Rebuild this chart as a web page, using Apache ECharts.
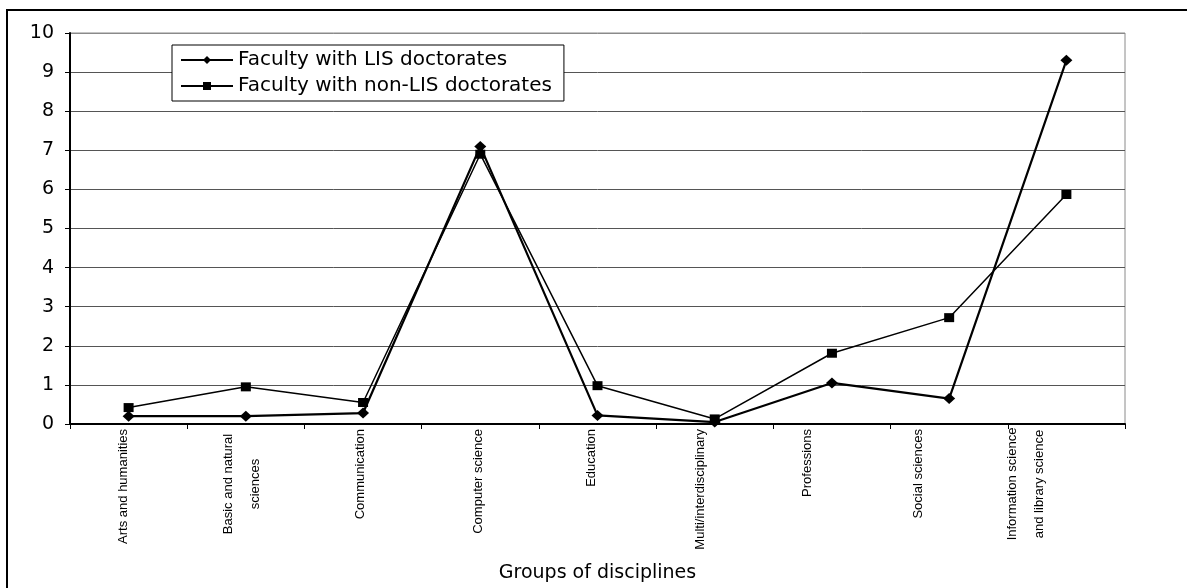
<!DOCTYPE html>
<html>
<head>
<meta charset="utf-8">
<script src="https://cdn.jsdelivr.net/npm/echarts@6/dist/echarts.min.js"></script>
<style>
  html, body { margin: 0; padding: 0; background: #fff; }
  #chart { width: 1187px; height: 588px; }
</style>
</head>
<body>
<div id="chart"></div>
<script>
// Discipline groups along the x axis
const categories = [
  'Arts and humanities',
  'Basic and natural\nsciences',
  'Communication',
  'Computer science',
  'Education',
  'Multi/interdisciplinary',
  'Professions',
  'Social sciences',
  'Information science\nand library science'
];

// Faculty with LIS doctorates
const lisDoctorates = [0.2, 0.2, 0.28, 7.1, 0.22, 0.05, 1.05, 0.65, 9.3];

// Faculty with non-LIS doctorates
const nonLisDoctorates = [0.42, 0.95, 0.55, 6.9, 0.98, 0.13, 1.81, 2.72, 5.87];

// Y axis ticks
const yTicks = ['0', '1', '2', '3', '4', '5', '6', '7', '8', '9', '10'];

// Horizontal nudge (px, leftwards) of each rotated category label
const labelShift = [5, 4, 3, 2, 6, 14, 25, 31, 40];

const chart = echarts.init(document.getElementById('chart'), null, { renderer: 'canvas' });

// Split line colours: ordinary grid lines, lighter for the top edge at 10
const splitColors = yTicks.map((t, i) => (i === yTicks.length - 1 ? '#8a8a8a' : '#555'));

// Category items with per-label padding so each rotated label sits slightly left
const categoryItems = categories.map((c, i) => ({
  value: c,
  textStyle: { padding: [0, 0, 2 * labelShift[i], 0] }
}));

chart.setOption({
  animation: false,
  backgroundColor: '#fff',
  textStyle: { fontFamily: 'Liberation Sans, Arial, sans-serif', color: '#000' },
  graphic: [
    {
      type: 'rect',
      shape: { x: 7, y: 10, width: 1200, height: 600 },
      style: { fill: 'none', stroke: '#000', lineWidth: 2 },
      silent: true,
      z: -1
    }
  ],
  legend: {
    left: 172,
    top: 45,
    orient: 'vertical',
    itemGap: 6,
    itemWidth: 52,
    itemHeight: 10,
    padding: [5, 12, 5, 8],
    borderColor: '#000',
    borderWidth: 1,
    borderRadius: 0,
    backgroundColor: '#fff',
    textStyle: { fontFamily: 'DejaVu Sans', fontSize: 20, color: '#000' },
    data: ['Faculty with LIS doctorates', 'Faculty with non-LIS doctorates']
  },
  grid: {
    left: 70,
    right: 62,
    top: 33,
    bottom: 161,
    show: true,
    borderColor: '#8a8a8a',
    borderWidth: 1,
    containLabel: false
  },
  xAxis: {
    type: 'category',
    data: categoryItems,
    boundaryGap: true,
    name: 'Groups of disciplines',
    nameLocation: 'middle',
    nameGap: 140,
    nameTextStyle: { fontFamily: 'DejaVu Sans', fontSize: 19, color: '#000' },
    axisLine: { lineStyle: { color: '#000', width: 2 } },
    axisTick: { show: true, alignWithLabel: false, length: 5, lineStyle: { color: '#000' } },
    axisLabel: {
      interval: 0,
      rotate: 90,
      margin: 5,
      fontSize: 13,
      color: '#000',
      formatter: function (v) {
        if (v.indexOf('\n') < 0) return v;
        return v.split('\n').map(s => '{c|' + s + '}').join('\n');
      },
      rich: {
        c: { width: 110, align: 'center', lineHeight: 27, fontSize: 13, color: '#000' }
      }
    },
    splitLine: { show: false }
  },
  yAxis: {
    type: 'value',
    min: 0,
    max: 10,
    interval: 1,
    axisLine: { show: true, lineStyle: { color: '#000', width: 2 } },
    axisTick: { show: true, length: 5, lineStyle: { color: '#000' } },
    axisLabel: {
      margin: 16,
      fontFamily: 'DejaVu Sans',
      fontSize: 19,
      color: '#000',
      formatter: function (v) { return yTicks[v]; }
    },
    splitLine: { show: true, lineStyle: { color: splitColors, width: 1 } }
  },
  series: [
    {
      name: 'Faculty with LIS doctorates',
      type: 'line',
      data: lisDoctorates,
      symbol: 'diamond',
      symbolSize: [12, 11],
      showAllSymbol: true,
      lineStyle: { color: '#000', width: 2.2 },
      itemStyle: { color: '#000' },
      z: 3
    },
    {
      name: 'Faculty with non-LIS doctorates',
      type: 'line',
      data: nonLisDoctorates,
      symbol: 'rect',
      symbolSize: [10, 9],
      showAllSymbol: true,
      lineStyle: { color: '#000', width: 1.5 },
      itemStyle: { color: '#000' },
      z: 2
    }
  ]
});
</script>
</body>
</html>
